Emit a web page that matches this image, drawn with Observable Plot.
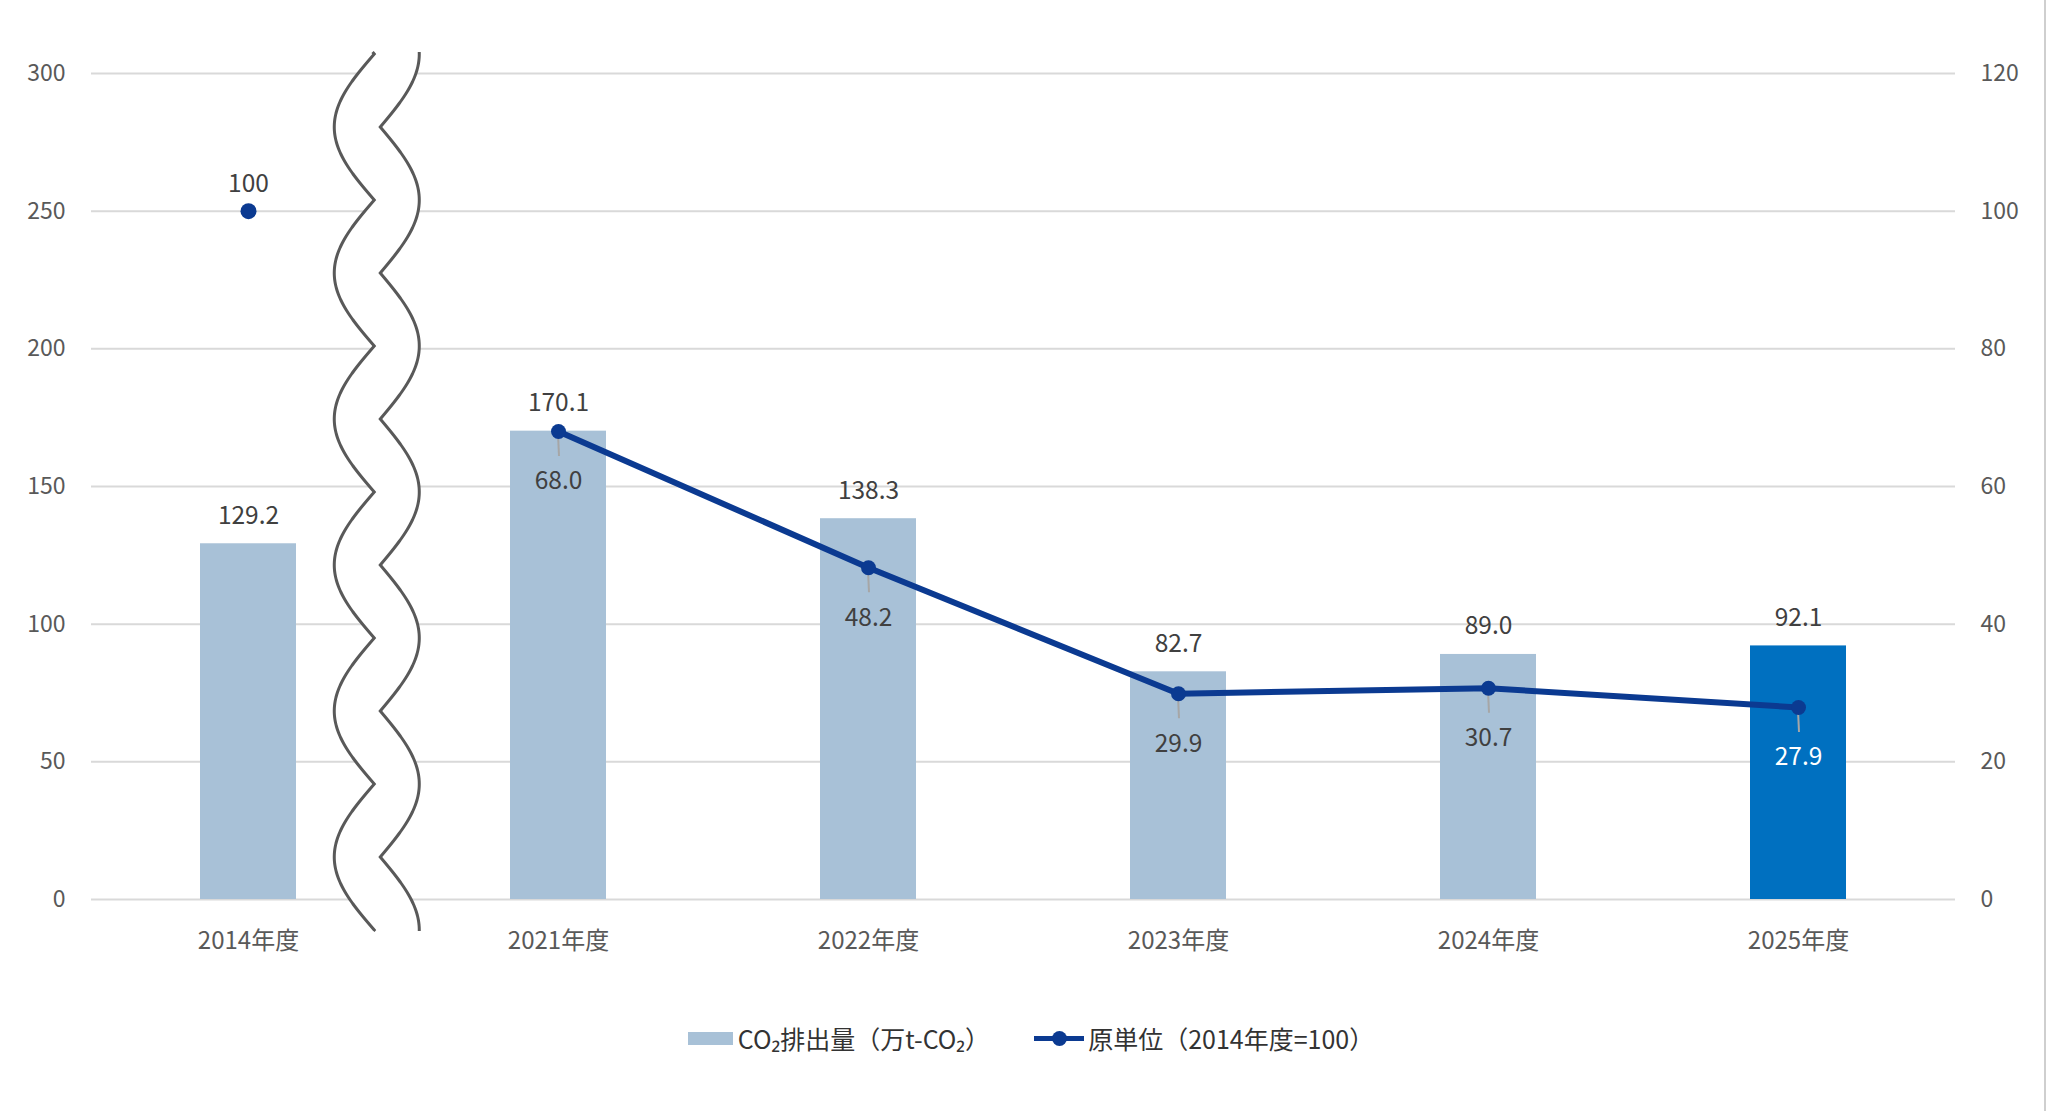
<!DOCTYPE html>
<html><head><meta charset="utf-8">
<script src="https://cdn.jsdelivr.net/npm/d3@7"></script>
<script src="https://cdn.jsdelivr.net/npm/@observablehq/plot@0.6"></script>
<style>
html,body{margin:0;padding:0;background:#fff;}
body{font-family:"Noto Sans CJK JP","Noto Sans",sans-serif;width:2048px;height:1111px;position:relative;overflow:hidden;}
#legend{display:flex;justify-content:center;align-items:center;height:30px;margin-top:23px;padding-left:14px;font-size:25px;color:#333;}
.item{display:flex;align-items:center;}
.sw{width:45px;height:13px;margin-right:5px;}
.ln{position:relative;width:50px;height:5px;margin-right:4px;}
.ln i{position:absolute;left:18px;top:-5px;width:15px;height:15px;border-radius:50%;}
#edge{position:absolute;left:2044px;top:0;width:2px;height:1111px;background:#cfcfcf;}
</style></head><body>
<div id="chart"></div>
<div id="legend"></div>
<div id="edge"></div>
<script>
// ---- data ----
const years = ["2014年度","2021年度","2022年度","2023年度","2024年度","2025年度"];
const co2 = [129.2, 170.1, 138.3, 82.7, 89.0, 92.1];
const intensity = [100, 68.0, 48.2, 29.9, 30.7, 27.9];
const leftTicks = [0, 50, 100, 150, 200, 250, 300];
const rightTicks = [0, 20, 40, 60, 80, 100, 120];
const highlightYear = "2025年度";
const breakYear = "2014年度";
const legendBar = "CO₂排出量（万t-CO₂）";
const legendLine = "原単位（2014年度=100）";

const barColor = "#a8c1d7", hlColor = "#0070c0", lineColor = "#0b3a91";
const textColor = "#404040", axisColor = "#595959", gridColor = "#d9d9d9";
const ratio = 300 / 120;

const bars = years.map((y, i) => ({year: y, value: co2[i], hl: y === highlightYear}));
const pts = years.map((y, i) => ({year: y, value: intensity[i], scaled: intensity[i] * ratio, hl: y === highlightYear}));
const linePts = pts.filter(d => d.year !== breakYear);
const isoPts = pts.filter(d => d.year === breakYear);

function bw(x) { return typeof x.bandwidth === "function" ? x.bandwidth() : (x.bandwidth || 0); }

// leader lines below line points
function leaders(index, scales) {
  const x = scales.x, y = scales.y, b = bw(x) / 2;
  const g = d3.create("svg:g");
  for (const d of linePts) {
    const cx = x(d.year) + b, cy = y(d.scaled);
    g.append("line").attr("x1", cx).attr("x2", cx + 1).attr("y1", cy + 3).attr("y2", cy + 25)
      .attr("stroke", "#a6a6a6").attr("stroke-width", 2);
  }
  return g.node();
}

// wavy axis break between first and second category
function wave(index, scales) {
  const x = scales.x, y = scales.y, b = bw(x) / 2;
  const c0 = x(years[0]) + b, c1 = x(years[1]) + b;
  const cx = c0 + 0.417 * (c1 - c0);
  const top = y(300) - 21, bottom = y(0) + 32;
  const y0 = y(300) + 127, P = 146, A = 40;
  const left = [], right = [];
  for (let yy = top; yy <= bottom + 0.01; yy += 1) {
    const t = Math.PI * (yy - y0) / P;
    left.push([cx - 3 - A * Math.abs(Math.sin(t)), yy]);
    right.push([cx + 3 + (A - 1) * Math.abs(Math.cos(t)), yy]);
  }
  const line = d3.line();
  const g = d3.create("svg:g");
  g.append("path").attr("d", line(left.concat(right.slice().reverse())) + "Z").attr("fill", "#fff");
  g.append("path").attr("d", line(left)).attr("fill", "none").attr("stroke", "#595959").attr("stroke-width", 3);
  g.append("path").attr("d", line(right)).attr("fill", "none").attr("stroke", "#595959").attr("stroke-width", 3);
  return g.node();
}

const chart = Plot.plot({
  width: 2048,
  height: 1000,
  marginTop: 73,
  marginBottom: 101,
  marginLeft: 91,
  marginRight: 93,
  style: {fontFamily: '"Noto Sans CJK JP","Noto Sans",sans-serif', color: axisColor, background: "#fff"},
  x: {domain: years, paddingInner: 0.69, paddingOuter: 0.345, label: null},
  y: {domain: [0, 300], label: null},
  marks: [
    Plot.ruleY(leftTicks, {stroke: gridColor, strokeWidth: 2}),
    Plot.barY(bars, {x: "year", y: "value", fill: d => d.hl ? hlColor : barColor}),
    wave,
    Plot.line(linePts, {x: "year", y: "scaled", stroke: lineColor, strokeWidth: 6}),
    leaders,
    Plot.dot(linePts, {x: "year", y: "scaled", r: 7.5, fill: lineColor}),
    Plot.dot(isoPts, {x: "year", y: "scaled", r: 8, fill: lineColor}),
    Plot.text(bars, {x: "year", y: "value", text: d => d.value.toFixed(1), dy: -28, fontSize: 24.5, fill: textColor}),
    Plot.text(linePts, {x: "year", y: "scaled", text: d => d.value.toFixed(1), dy: 50, fontSize: 24.5, fill: d => d.hl ? "#fff" : textColor}),
    Plot.text(isoPts, {x: "year", y: "scaled", text: d => String(d.value), dy: -27, fontSize: 24.5, fill: textColor}),
    Plot.axisY({anchor: "left", ticks: leftTicks, tickSize: 0, tickPadding: 26, fontSize: 23, label: null, fill: axisColor}),
    Plot.axisY({anchor: "right", ticks: rightTicks.map(v => v * ratio), tickFormat: v => String(Math.round(v / ratio)), tickSize: 0, tickPadding: 25, fontSize: 23, label: null, fill: axisColor}),
    Plot.axisX({anchor: "bottom", tickSize: 0, tickPadding: 32, fontSize: 24, label: null, fill: axisColor})
  ]
});
document.getElementById("chart").appendChild(chart);

const lg = document.getElementById("legend");
lg.innerHTML = `<div class="item"><div class="sw" style="background:${barColor}"></div><span></span></div>
<div class="item" style="margin-left:44px"><div class="ln" style="background:${lineColor}"><i style="background:${lineColor}"></i></div><span></span></div>`;
const spans = lg.querySelectorAll("span");
spans[0].textContent = legendBar;
spans[1].textContent = legendLine;
</script>
</body></html>
